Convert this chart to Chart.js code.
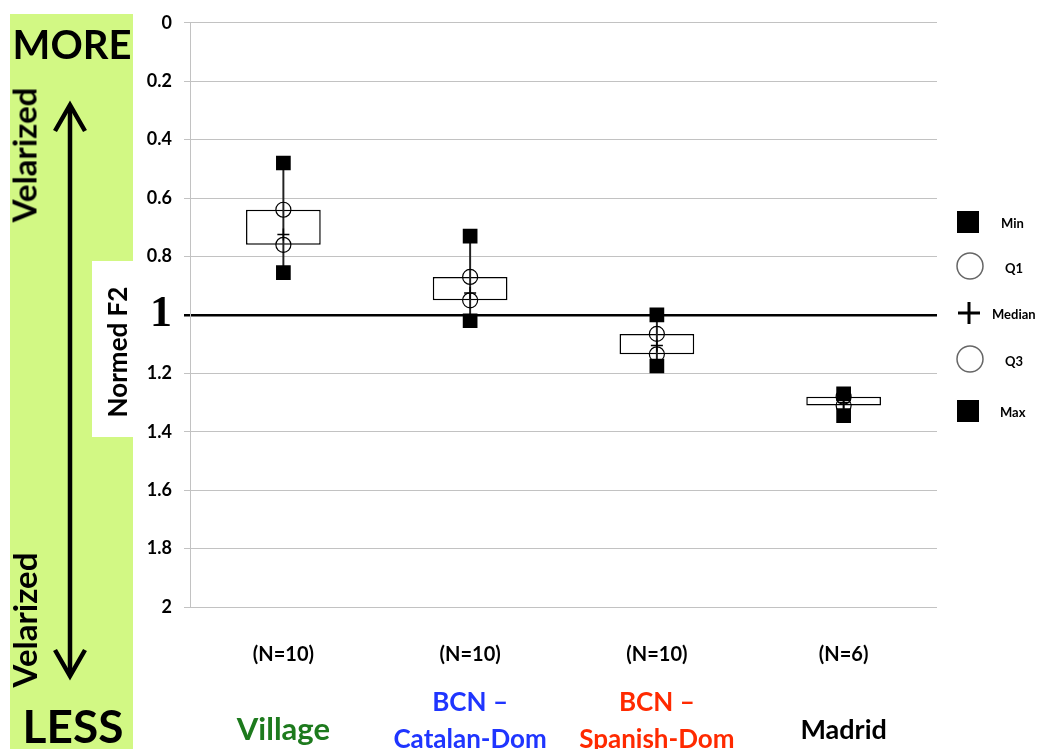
<!DOCTYPE html>
<html>
<head>
<meta charset="utf-8">
<script src="https://cdn.jsdelivr.net/npm/chart.js@4.4.0/dist/chart.umd.min.js"></script>
<style>
html,body{margin:0;padding:0;background:#fff;width:1046px;height:749px;overflow:hidden;font-family:Lato,"Open Sans",sans-serif;}
.abs{position:absolute;}
#panel{left:10px;top:14px;width:123px;height:735px;background:#d2f884;}
#wrap{position:absolute;left:0;top:0;width:1046px;height:749px;}
.ctr{position:absolute;transform:translate(-50%,-50%);white-space:nowrap;font-weight:700;line-height:1;color:#000;}
.rot{position:absolute;transform:translate(-50%,-50%) rotate(-90deg);white-space:nowrap;font-weight:700;line-height:1;color:#000;}
#normbox{left:92px;top:261px;width:41px;height:176px;background:#fff;}
.cat{position:absolute;transform:translateX(-50%);text-align:center;white-space:nowrap;font-weight:700;}
.leg{position:absolute;font-weight:700;font-size:13px;line-height:1;transform:translateY(-50%);white-space:nowrap;}
</style>
</head>
<body>
<div id="panel" class="abs"></div>
<div id="wrap"><canvas id="c" width="1046" height="749"></canvas></div>

<div class="ctr" style="left:72px;top:44px;font-size:40px;">MORE</div>
<div class="ctr" style="left:73px;top:726px;font-size:46px;">LESS</div>
<div class="rot" style="left:24px;top:155px;font-size:33px;">Velarized</div>
<div class="rot" style="left:24px;top:620px;font-size:33px;">Velarized</div>
<svg class="abs" style="left:0;top:0;" width="140" height="749">
  <g stroke="#000" stroke-width="4.5" fill="none" stroke-linecap="butt" stroke-linejoin="miter">
    <line x1="70" y1="106" x2="70" y2="674"/>
    <polyline points="55,131 70,105 85,131"/>
    <polyline points="55,650 70,676 85,650"/>
  </g>
</svg>
<div id="normbox" class="abs"></div>
<div class="rot" style="left:117px;top:352px;font-size:26px;">Normed F2</div>

<svg class="abs" style="left:940px;top:200px;" width="60" height="230">
  <rect x="17" y="11" width="22" height="22" fill="#000"/>
  <circle cx="30" cy="66" r="13" fill="none" stroke="#666" stroke-width="1.5"/>
  <g stroke="#000" stroke-width="3"><line x1="18" y1="113" x2="40" y2="113"/><line x1="29" y1="102" x2="29" y2="124"/></g>
  <circle cx="30" cy="159" r="13" fill="none" stroke="#666" stroke-width="1.5"/>
  <rect x="17" y="200" width="22" height="22" fill="#000"/>
</svg>
<div class="leg" style="left:1001px;top:223px;">Min</div>
<div class="leg" style="left:1005px;top:268px;">Q1</div>
<div class="leg" style="left:992px;top:314px;">Median</div>
<div class="leg" style="left:1005px;top:361px;">Q3</div>
<div class="leg" style="left:1000px;top:412px;">Max</div>

<div id="cats"></div>

<script>
// ---- data ----
const categories = ['Village', 'BCN – Catalan-Dom', 'BCN – Spanish-Dom', 'Madrid'];
const categoryLines = [['Village'], ['BCN –', 'Catalan-Dom'], ['BCN –', 'Spanish-Dom'], ['Madrid']];
const categoryColors = ['#1d7a1d', '#1f35ff', '#ff2a00', '#000000'];
const categoryFontSizes = [31, 26, 26, 27];
const nLabels = ['(N=10)', '(N=10)', '(N=10)', '(N=6)'];
const minVals = [0.48, 0.73, 1.00, 1.27];
const q1Vals = [0.64, 0.87, 1.065, 1.28];
const medianVals = [0.725, 0.925, 1.105, 1.30];
const q3Vals = [0.76, 0.95, 1.135, 1.31];
const maxVals = [0.855, 1.02, 1.175, 1.345];
const yTickValues = [0, 0.2, 0.4, 0.6, 0.8, 1, 1.2, 1.4, 1.6, 1.8, 2];
const yTickLabels = ['0', '0.2', '0.4', '0.6', '0.8', '1', '1.2', '1.4', '1.6', '1.8', '2'];

const boxRanges = categories.map((_, i) => [q1Vals[i], q3Vals[i]]);
const whiskerRanges = categories.map((_, i) => [minVals[i], maxVals[i]]);

const labelFor = v => {
  const k = yTickValues.findIndex(t => Math.abs(t - v) < 1e-6);
  return k >= 0 ? yTickLabels[k] : '';
};
const isOne = ctx => ctx && ctx.tick && Math.abs(ctx.tick.value - 1) < 1e-6;

const chart = new Chart(document.getElementById('c'), {
  type: 'bar',
  data: {
    labels: categories,
    datasets: [
      { type: 'bar', label: 'Box', data: boxRanges, backgroundColor: '#ffffff', borderColor: '#000',
        borderWidth: 1.5, borderSkipped: false, grouped: false, barPercentage: 0.4, categoryPercentage: 1, order: 6 },
      { type: 'bar', label: 'Whisker', data: whiskerRanges, backgroundColor: '#222', borderWidth: 0,
        grouped: false, barThickness: 1.3, order: 5 },
      { type: 'line', label: 'Min', data: minVals, showLine: false, pointStyle: 'rect', pointRadius: 10.4,
        backgroundColor: '#000', borderColor: '#000', borderWidth: 0, order: 3 },
      { type: 'line', label: 'Max', data: maxVals, showLine: false, pointStyle: 'rect', pointRadius: 10.4,
        backgroundColor: '#000', borderColor: '#000', borderWidth: 0, order: 3 },
      { type: 'line', label: 'Q1', data: q1Vals, showLine: false, pointStyle: 'circle', pointRadius: 7.5,
        backgroundColor: 'rgba(0,0,0,0)', borderColor: '#000', borderWidth: 1.2, order: 2 },
      { type: 'line', label: 'Q3', data: q3Vals, showLine: false, pointStyle: 'circle', pointRadius: 7.5,
        backgroundColor: 'rgba(0,0,0,0)', borderColor: '#000', borderWidth: 1.2, order: 2 },
      { type: 'line', label: 'Median', data: medianVals, showLine: false, pointStyle: 'cross', pointRadius: 6,
        backgroundColor: '#000', borderColor: '#000', borderWidth: 1.5, order: 1 }
    ]
  },
  options: {
    responsive: false,
    animation: false,
    events: [],
    layout: { padding: { left: 130, right: 109, top: 20, bottom: 0 } },
    plugins: { legend: { display: false }, tooltip: { enabled: false } },
    scales: {
      x: {
        offset: true,
        grid: { display: false, drawTicks: false },
        border: { display: false },
        ticks: { callback: (v, i) => nLabels[i], color: '#000', padding: 36, maxRotation: 0, autoSkip: false,
          font: { family: 'Lato', size: 20, weight: 'bold' } },
        afterFit: s => { s.height = 142; }
      },
      y: {
        min: 0, max: 2, reverse: true,
        ticks: {
          stepSize: 0.2,
          callback: v => labelFor(v),
          color: '#000',
          padding: 12,
          font: ctx => isOne(ctx) ? { family: 'Liberation Serif', size: 44, weight: 'bold' }
                                  : { family: 'Lato', size: 18, weight: 'bold' }
        },
        grid: {
          color: ctx => isOne(ctx) ? '#000' : '#c2c2c2',
          lineWidth: ctx => isOne(ctx) ? 2.5 : 1,
          tickLength: 6
        },
        border: { color: '#c2c2c2', width: 1 },
        afterFit: s => { s.width = 60; }
      }
    }
  }
});

// category labels placed from the x scale
const xs = chart.scales.x;
const catBox = document.getElementById('cats');
categoryLines.forEach((lines, i) => {
  const d = document.createElement('div');
  d.className = 'cat';
  const two = lines.length > 1;
  const lh = 37;
  d.style.left = xs.getPixelForValue(i) + 'px';
  d.style.top = (two ? 701 - lh / 2 : 728 - lh / 2) + 'px';
  d.style.fontSize = categoryFontSizes[i] + 'px';
  d.style.lineHeight = lh + 'px';
  d.style.color = categoryColors[i];
  d.innerHTML = lines.map(t => '<div>' + t + '</div>').join('');
  catBox.appendChild(d);
});
</script>
</body>
</html>
